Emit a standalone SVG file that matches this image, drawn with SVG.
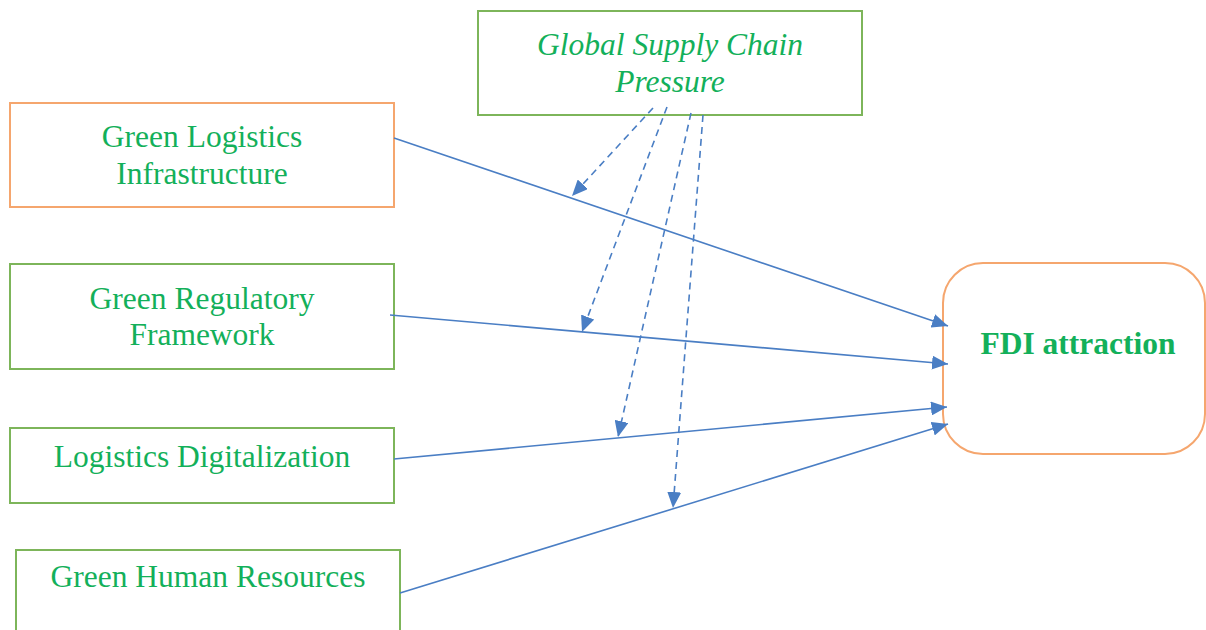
<svg xmlns="http://www.w3.org/2000/svg" width="1206" height="630" viewBox="0 0 1206 630">
  <style>
    .box-g { fill: #ffffff; stroke: #7DB55A; stroke-width: 2; }
    .box-o { fill: #ffffff; stroke: #F5A66E; stroke-width: 2; }
    .lbl { font-family: "Liberation Serif", "Times New Roman", serif; font-size: 31.5px; fill: #13B05A; text-anchor: middle; }
    .it { font-style: italic; }
    .bd { font-weight: bold; }
    .link { stroke: #4A7EC4; stroke-width: 1.6; fill: none; marker-end: url(#arrow); }
    .mod { stroke-dasharray: 7 5; }
  </style>
  <defs>
    <marker id="arrow" markerUnits="userSpaceOnUse" markerWidth="18" markerHeight="14" refX="16" refY="7" orient="auto">
      <path d="M0,0 L16,7 L0,14 Z" fill="#4A7EC4"/>
    </marker>
  </defs>
  <rect width="1206" height="630" fill="#ffffff"/>

  <g id="supply-chain-pressure">
    <rect class="box-g" x="478" y="11" width="384" height="104"/>
    <text class="lbl it" x="670" y="55">Global Supply Chain</text>
    <text class="lbl it" x="670" y="92">Pressure</text>
  </g>

  <g id="green-logistics-infrastructure">
    <rect class="box-o" x="10" y="103" width="384" height="104"/>
    <text class="lbl" x="202" y="147">Green Logistics</text>
    <text class="lbl" x="202" y="184">Infrastructure</text>
  </g>

  <g id="green-regulatory-framework">
    <rect class="box-g" x="10" y="264" width="384" height="105"/>
    <text class="lbl" x="202" y="309">Green Regulatory</text>
    <text class="lbl" x="202" y="345">Framework</text>
  </g>

  <g id="logistics-digitalization">
    <rect class="box-g" x="10" y="428" width="384" height="75"/>
    <text class="lbl" x="202" y="467">Logistics Digitalization</text>
  </g>

  <g id="green-human-resources">
    <rect class="box-g" x="16" y="550" width="384" height="100"/>
    <text class="lbl" x="208" y="587">Green Human Resources</text>
  </g>

  <g id="fdi-attraction">
    <rect class="box-o" x="943" y="263" width="262" height="191" rx="40" ry="40"/>
    <text class="lbl bd" x="1078" y="354">FDI attraction</text>
  </g>

  <g id="connectors">
    <line class="link" x1="394" y1="138" x2="948" y2="326"/>
    <line class="link" x1="390" y1="315" x2="948" y2="364"/>
    <line class="link" x1="394" y1="459" x2="947" y2="407"/>
    <line class="link" x1="400" y1="593" x2="948" y2="424"/>
    <line class="link mod" x1="653" y1="108" x2="572" y2="196"/>
    <line class="link mod" x1="667" y1="107" x2="582" y2="332"/>
    <line class="link mod" x1="691" y1="113" x2="618" y2="437"/>
    <line class="link mod" x1="703" y1="115" x2="673" y2="508"/>
  </g>
</svg>
